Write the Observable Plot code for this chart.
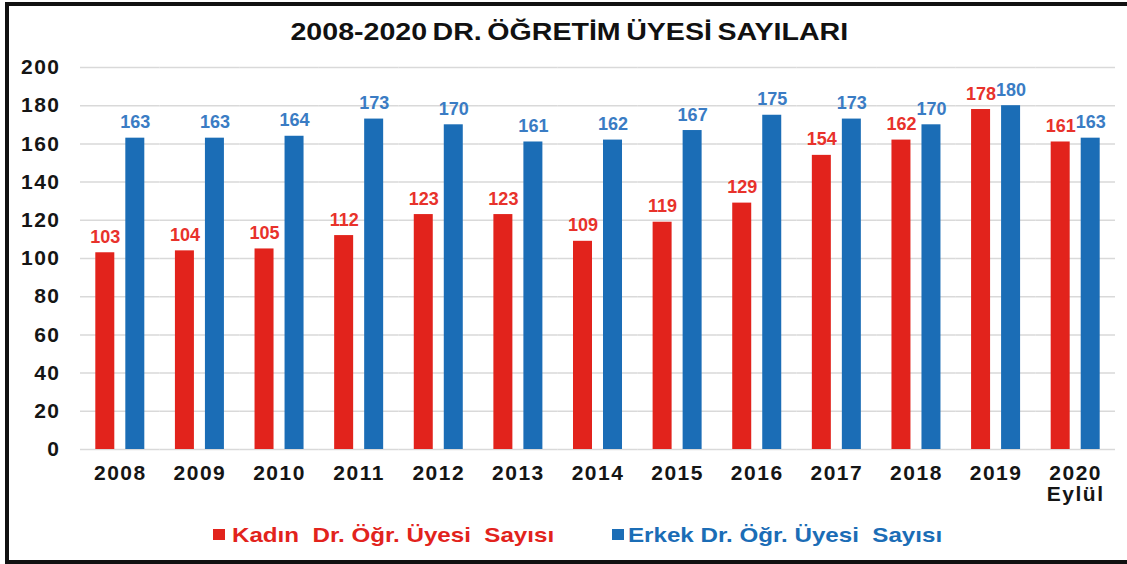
<!DOCTYPE html>
<html>
<head>
<meta charset="utf-8">
<script src="https://cdn.jsdelivr.net/npm/d3@7"></script>
<script src="https://cdn.jsdelivr.net/npm/@observablehq/plot@0.6"></script>
<style>
  html, body { margin: 0; padding: 0; background: #fff; }
  body { width: 1127px; height: 564px; position: relative; overflow: hidden; font-family: 'Liberation Sans', Arial, sans-serif; }
  #frame { position: absolute; left: 5px; top: 2px; width: 1140px; height: 562px; border: 4px solid #111; box-sizing: border-box; pointer-events: none; }
  #title { position: absolute; left: 0; top: 20px; width: 1139px; text-align: center; font-size: 24px; line-height: 24px; font-weight: bold; color: #111; }
  #title span { display: inline-block; transform: scaleX(1.19); word-spacing: -2px; }
  #chart { position: absolute; left: 0; top: 0; }
  #chart svg text { letter-spacing: 1.5px; }
  #chart svg g.vals text { letter-spacing: 0; }
  .leg { position: absolute; top: 524px; font-size: 21px; line-height: 21px; font-weight: bold; white-space: pre; }
  .leg .sw { position: absolute; left: 0; top: 5px; width: 12px; height: 11px; }
  .leg .tx { position: absolute; top: 0; display: inline-block; transform: scaleX(1.15); transform-origin: left center; }
</style>
</head>
<body>
<div id="title"><span>2008-2020 DR. ÖĞRETİM ÜYESİ SAYILARI</span></div>
<div id="chart"></div>
<div class="leg" id="legK" style="left:213px"><div class="sw"></div><div class="tx" style="left:19px"></div></div>
<div class="leg" id="legE" style="left:612px"><div class="sw"></div><div class="tx" style="left:16px"></div></div>
<div id="frame"></div>
<script>
const years = ["2008","2009","2010","2011","2012","2013","2014","2015","2016","2017","2018","2019","2020"];
const kadin = [103,104,105,112,123,123,109,119,129,154,162,178,161];
const erkek = [163,163,164,173,170,161,162,167,175,173,170,180,163];
const seriesNames = ["Kadın  Dr. Öğr. Üyesi  Sayısı", "Erkek Dr. Öğr. Üyesi  Sayısı"];
const yTicks = [0,20,40,60,80,100,120,140,160,180,200];
const yearLabels = {"2020": "2020\nEylül"};

const barColors = ["#e2231c", "#1b6db6"];
const labelColors = ["#e8322b", "#3a7cc4"];

const rows = [];
years.forEach((y, i) => {
  rows.push({year: y, series: seriesNames[0], value: kadin[i]});
  rows.push({year: y, series: seriesNames[1], value: erkek[i]});
});

const plot = Plot.plot({
  width: 1127,
  height: 510,
  marginLeft: 80,
  marginRight: 12,
  marginTop: 67,
  marginBottom: 61,
  style: {fontFamily: "'Liberation Sans', Arial, sans-serif", background: "transparent", overflow: "visible"},
  fx: {domain: years, padding: 0, round: false, label: null},
  x: {domain: seriesNames, paddingInner: 0.367, paddingOuter: 0.51, round: false, axis: null},
  y: {domain: [0, 200], label: null},
  color: {domain: seriesNames, range: barColors},
  marks: [
    Plot.ruleY(yTicks, {stroke: "#d9d9d9", strokeWidth: 1.5}),
    Plot.barY(rows, {fx: "year", x: "series", y: "value", fill: "series"}),
    Plot.text(rows.filter(d => d.series === seriesNames[0]), {fx: "year", x: "series", y: "value", text: d => String(d.value), dy: -10, lineAnchor: "bottom", fill: labelColors[0], fontSize: 18, fontWeight: "bold", className: "vals"}),
    Plot.text(rows.filter(d => d.series === seriesNames[1]), {fx: "year", x: "series", y: "value", text: d => String(d.value), dy: -10, lineAnchor: "bottom", fill: labelColors[1], fontSize: 18, fontWeight: "bold", className: "vals"}),
    Plot.axisY(yTicks, {tickSize: 0, tickPadding: 20, fontSize: 21, fontWeight: "bold", fill: "#151515", label: null}),
    Plot.axisFx({anchor: "bottom", tickSize: 0, tickPadding: 16, fontSize: 21, fontWeight: "bold", fill: "#151515", label: null, tickFormat: d => yearLabels[d] || d})
  ]
});
document.getElementById("chart").appendChild(plot);

const legK = document.getElementById("legK");
legK.querySelector(".sw").style.background = barColors[0];
legK.querySelector(".tx").style.color = barColors[0];
legK.querySelector(".tx").textContent = seriesNames[0];
const legE = document.getElementById("legE");
legE.querySelector(".sw").style.background = barColors[1];
legE.querySelector(".tx").style.color = barColors[1];
legE.querySelector(".tx").textContent = seriesNames[1];
</script>
</body>
</html>
